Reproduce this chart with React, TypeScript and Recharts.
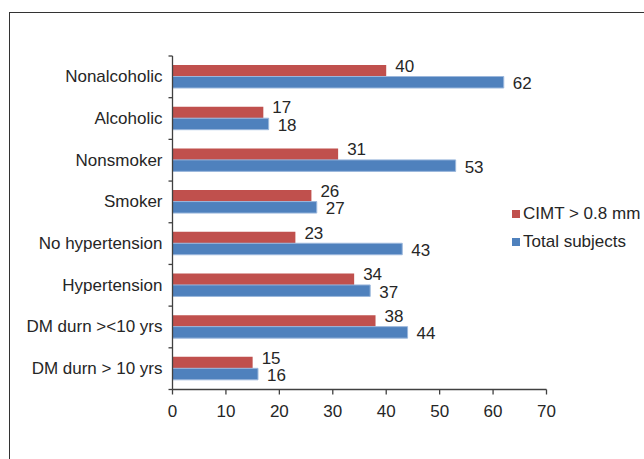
import { BarChart, Bar, XAxis, YAxis, Legend, LabelList } from "recharts"

const categories = [
  "Nonalcoholic", "Alcoholic", "Nonsmoker", "Smoker",
  "No hypertension", "Hypertension", "DM durn ><10 yrs", "DM durn > 10 yrs",
]
const cimt = [40, 17, 31, 26, 23, 34, 38, 15]
const total = [62, 18, 53, 27, 43, 37, 44, 16]
const xTicks = [0, 10, 20, 30, 40, 50, 60, 70]

const C = { red: "#C0504D", blue: "#4F81BD", axis: "#404040", ink: "#262626" }
const FONT = '"Liberation Sans", Arial, sans-serif'

const rows = categories.map((name, i) => ({ name, cimt: cimt[i], total: total[i] }))

// category ticks sit on the band edges, like Excel
function CatTick(props: any) {
  const { x, y, payload, index, visibleTicksCount } = props
  const off = payload?.offset ?? 0
  const last = index === visibleTicksCount - 1
  return (
    <g>
      <text x={x} y={y} textAnchor="end" dominantBaseline="central" fill={C.ink} fontSize={17} fontFamily={FONT}>
        {payload.value}
      </text>
      {off > 0 && <line x1={x + 6} x2={x + 10} y1={y - off} y2={y - off} stroke={C.axis} strokeWidth={1.3} />}
      {off > 0 && last && <line x1={x + 6} x2={x + 10} y1={y + off} y2={y + off} stroke={C.axis} strokeWidth={1.3} />}
    </g>
  )
}

function LegendBox({ payload }: any) {
  return (
    <div style={{ fontFamily: FONT, fontSize: 17, color: C.ink }}>
      {(payload || []).map((p: any) => (
        <div key={p.value} style={{ display: "flex", alignItems: "center", height: 28 }}>
          <span style={{ width: 8, height: 8, background: p.color, marginRight: 3, display: "inline-block" }} />
          <span>{p.value}</span>
        </div>
      ))}
    </div>
  )
}

export default function App() {
  return (
    <div style={{ position: "absolute", left: 0, top: 0, width: 644, height: 459, background: "#fff", overflow: "hidden" }}>
      <div style={{ position: "absolute", left: 9, top: 12, right: -5, bottom: -5, borderLeft: "1.5px solid #333", borderTop: "1.5px solid #333" }} />
      <div style={{ position: "absolute", left: 0, top: 0 }}>
        <BarChart
          width={644}
          height={459}
          data={rows}
          layout="vertical"
          margin={{ top: 56, right: 97.5, bottom: 39.5, left: 0.5 }}
          barSize={11.5}
          barGap={0}
        >
          <XAxis
            type="number"
            domain={[0, 70]}
            ticks={xTicks}
            height={30}
            stroke={C.axis}
            strokeWidth={1.3}
            tickSize={5}
            tickMargin={10}
            tick={{ fill: C.ink, fontSize: 17, fontFamily: FONT }}
          />
          <YAxis
            type="category"
            dataKey="name"
            width={172}
            stroke={C.axis}
            strokeWidth={1.3}
            tickLine={false}
            tickSize={4}
            tickMargin={6}
            tick={<CatTick />}
            interval={0}
          />
          <Legend
            layout="vertical"
            verticalAlign="middle"
            align="center"
            content={<LegendBox />}
            wrapperStyle={{ left: 512, top: 200, width: 140 }}
          />
          <Bar dataKey="cimt" name="CIMT > 0.8 mm" fill={C.red} isAnimationActive={false}>
            <LabelList dataKey="cimt" position="right" offset={9} dy={-5} fill={C.ink} fontSize={17} fontFamily={FONT} />
          </Bar>
          <Bar dataKey="total" name="Total subjects" fill={C.blue} stroke="#9bb7dc" strokeWidth={1} isAnimationActive={false}>
            <LabelList dataKey="total" position="right" offset={9} dy={1} fill={C.ink} fontSize={17} fontFamily={FONT} />
          </Bar>
        </BarChart>
      </div>
    </div>
  )
}
